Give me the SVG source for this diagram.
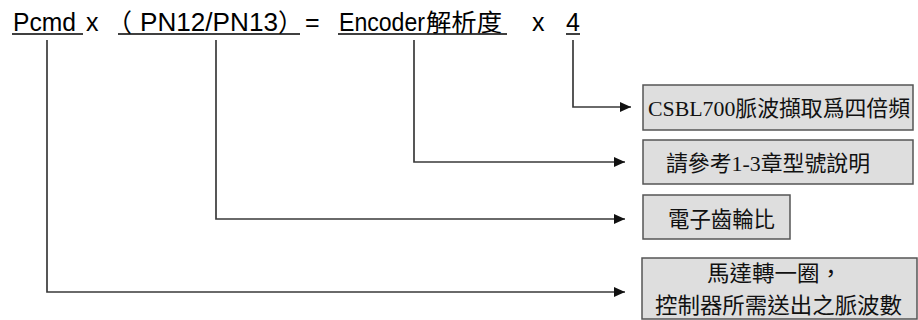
<svg xmlns="http://www.w3.org/2000/svg" width="918" height="320" viewBox="0 0 918 320">
  <defs>
    <marker id="arrow" markerUnits="userSpaceOnUse" markerWidth="12" markerHeight="10" refX="11" refY="5" orient="auto">
      <path d="M0,0 L11,5 L0,10 Z" fill="#111"/>
    </marker>
    <style>
      .formula { font-family: "Liberation Sans", Arial, "Noto Sans CJK TC", sans-serif; font-size: 25px; fill: #000; }
      .cjk { font-family: "Noto Sans CJK TC", sans-serif; font-size: 24px; fill: #000; }
      .paren { font-family: "Noto Sans CJK TC", sans-serif; font-size: 25px; fill: #000; }
      .uline { stroke: #000; stroke-width: 1.5; }
      .wire { fill: none; stroke: #3a3a3a; stroke-width: 1.7; marker-end: url(#arrow); }
      .box { fill: #dedede; stroke: #555; stroke-width: 1.5; }
      .label { font-family: "Liberation Serif", "Noto Sans CJK TC", serif; font-size: 22px; fill: #111; }
    </style>
  </defs>

  <!-- Formula line -->
  <g id="formula">
    <text class="formula" x="13" y="31" textLength="63" lengthAdjust="spacingAndGlyphs">Pcmd</text>
    <line class="uline" x1="12" y1="34" x2="83" y2="34"/>
    <text class="formula" x="86" y="31">x</text>
    <text class="paren" x="107" y="32">（</text>
    <text class="formula" x="140" y="31" textLength="138" lengthAdjust="spacingAndGlyphs">PN12/PN13</text>
    <text class="paren" x="278" y="32">）</text>
    <line class="uline" x1="118" y1="34" x2="300" y2="34"/>
    <text class="formula" x="305" y="31">=</text>
    <text class="formula" x="339" y="31" textLength="86" lengthAdjust="spacingAndGlyphs">Encoder</text>
    <text class="cjk" x="426" y="31" textLength="76" lengthAdjust="spacingAndGlyphs">解析度</text>
    <line class="uline" x1="338" y1="34" x2="507" y2="34"/>
    <text class="formula" x="532" y="31">x</text>
    <text class="formula" x="566" y="31">4</text>
    <line class="uline" x1="566" y1="34" x2="580" y2="34"/>
  </g>

  <!-- Connectors from each formula term to its note -->
  <g id="connectors">
    <path class="wire" d="M573,40 V107 H631"/>
    <path class="wire" d="M414,40 V162 H625"/>
    <path class="wire" d="M216,40 V219 H625"/>
    <path class="wire" d="M47,40 V292 H625"/>
  </g>

  <g id="note-quad">
    <rect class="box" x="643" y="85" width="270" height="45"/>
    <text class="label" x="648" y="116" textLength="262" lengthAdjust="spacingAndGlyphs">CSBL700脈波擷取爲四倍頻</text>
  </g>

  <g id="note-encoder">
    <rect class="box" x="643" y="140" width="270" height="44"/>
    <text class="label" x="666" y="171" textLength="204" lengthAdjust="spacingAndGlyphs">請參考1-3章型號說明</text>
  </g>

  <g id="note-gear">
    <rect class="box" x="643" y="195" width="147" height="44"/>
    <text class="label" x="668" y="227" textLength="107" lengthAdjust="spacingAndGlyphs">電子齒輪比</text>
  </g>

  <g id="note-pcmd">
    <rect class="box" x="642" y="258" width="275" height="61"/>
    <text class="label" x="707" y="281" textLength="135" lengthAdjust="spacingAndGlyphs">馬達轉一圈，</text>
    <text class="label" x="655" y="313" textLength="247" lengthAdjust="spacingAndGlyphs">控制器所需送出之脈波數</text>
  </g>
</svg>
